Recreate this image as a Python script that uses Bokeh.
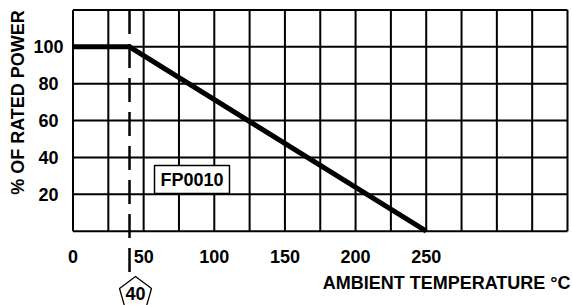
import math
from bokeh.plotting import figure
from bokeh.models import Range1d
from bokeh.core.properties import value
from bokeh.embed import file_html
from bokeh.resources import INLINE

# ---- data ----
temp = [0, 40, 250]
power = [100, 100, 0]
x_ticks = [0, 50, 100, 150, 200, 250]
x_tick_labels = ["0", "50", "100", "150", "200", "250"]
y_ticks = [20, 40, 60, 80, 100]
y_tick_labels = ["20", "40", "60", "80", "100"]
x_grid = list(range(0, 351, 25))
y_grid = list(range(0, 121, 20))
derate_temp = 40
derate_label = "40"
part_label = "FP0010"
x_title = "AMBIENT TEMPERATURE \u00b0C"
y_title = "% OF RATED POWER"

# ---- layout (canvas pixels) ----
W, H = 572, 305
X0, X1 = 72.5, 567.0      # canvas px of temp 0 and 350
Y0, Y1 = 230.7, 9.5       # canvas px of 0 % and 120 %
SX = (X1 - X0) / (max(x_grid) - min(x_grid))
SY = (Y0 - Y1) / (max(y_grid) - min(y_grid))


def dx(px):
    return px / SX


def yc(cy):
    return (Y0 - cy) / SY


FONT = value("Liberation Sans")
FS = "18px"

p = figure(width=W, height=H, output_backend="svg", toolbar_location=None,
           x_range=Range1d(-X0 / SX, (W - X0) / SX),
           y_range=Range1d(-(H - Y0) / SY, Y0 / SY),
           x_axis_type=None, y_axis_type=None,
           min_border=0, min_border_left=0, min_border_right=0,
           min_border_top=0, min_border_bottom=0,
           outline_line_color=None, background_fill_color="white",
           border_fill_color="white")

xmin, xmax = min(x_grid), max(x_grid)
ymin, ymax = min(y_grid), max(y_grid)

# grid
p.segment(x0=x_grid, y0=[ymin] * len(x_grid), x1=x_grid, y1=[ymax] * len(x_grid),
          line_color="black", line_width=2)
p.segment(x0=[xmin] * len(y_grid), y0=y_grid, x1=[xmax] * len(y_grid), y1=y_grid,
          line_color="black", line_width=2)

# derating curve
p.line(temp, power, line_color="black", line_width=5, line_cap="butt", line_join="miter")

# dashed marker line at 40 C, extending below the chart to the pentagon
p.line([derate_temp, derate_temp], [ymax, yc(276)], line_color="black",
       line_width=2.5, line_dash="24 10")

# pentagon marker
cx = derate_temp + dx(6)
pent_x = [cx, cx + dx(16), cx + dx(10), cx - dx(10), cx - dx(16)]
pent_y = [yc(276), yc(288), yc(309), yc(309), yc(288)]
p.patch(pent_x, pent_y, fill_color="white", line_color="black", line_width=1.3)
p.text(x=[cx], y=[yc(293)], text=[derate_label], text_font=FONT,
       text_font_style="bold", text_font_size=FS, text_align="center",
       text_baseline="middle", text_color="black")

# part label box
box_x = xmin + dx(191.5 - X0)
box_y = yc(179)
p.rect(x=[box_x], y=[box_y], width=75, height=28, width_units="screen",
       height_units="screen", fill_color="white", line_color="black", line_width=1.5)
p.text(x=[box_x], y=[box_y], text=[part_label], text_font=FONT, text_font_style="bold",
       text_font_size=FS, text_align="center", text_baseline="middle",
       text_color="black")

# tick labels
p.text(x=[xmin] * len(y_ticks), y=y_ticks, text=y_tick_labels, x_offset=-24.5,
       text_font=FONT, text_font_style="bold", text_font_size=FS,
       text_align="center", text_baseline="middle", text_color="black")
p.text(x=x_ticks, y=[ymin] * len(x_ticks), text=x_tick_labels, y_offset=25.5,
       text_font=FONT, text_font_style="bold", text_font_size=FS,
       text_align="center", text_baseline="middle", text_color="black")

# axis titles
p.text(x=[xmax], y=[ymin], text=[x_title], x_offset=3, y_offset=51.5,
       text_font=FONT, text_font_style="bold", text_font_size=FS,
       text_align="right", text_baseline="middle", text_color="black")
p.text(x=[xmin], y=[yc(102)], text=[y_title], x_offset=-(X0 - 17),
       angle=math.pi / 2, text_font=FONT, text_font_style="bold",
       text_font_size=FS, text_align="center", text_baseline="middle",
       text_color="black")

open("out.html", "w").write(file_html(p, INLINE))
